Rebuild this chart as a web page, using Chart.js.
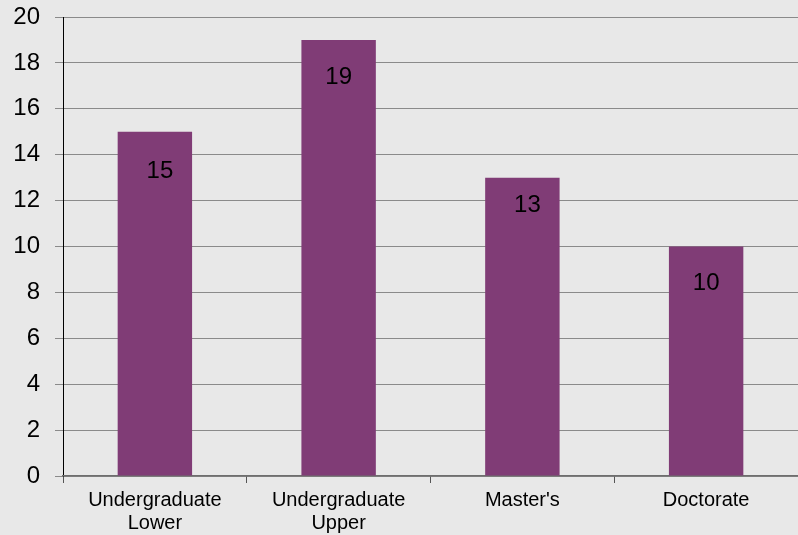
<!DOCTYPE html>
<html>
<head>
<meta charset="utf-8">
<script src="https://cdn.jsdelivr.net/npm/chart.js@4"></script>
<style>
  html, body { margin: 0; padding: 0; background: #e8e8e8; }
  #wrap { width: 798px; height: 535px; }
</style>
</head>
<body>
<div id="wrap"><canvas id="nivelesChart" width="798" height="535"></canvas></div>
<script>
// Categorías y valores
const categorias = [['Undergraduate', 'Lower'], ['Undergraduate', 'Upper'], "Master's", 'Doctorate'];
const valores = [15, 19, 13, 10];
const ejeY = { min: 0, max: 20, paso: 2 };

// Escribe el valor dentro de cada barra, bajo el borde superior
// (cada etiqueta lleva su pequeño desplazamiento)
const etiquetasBarras = {
    id: 'etiquetasBarras',
    afterDatasetsDraw(chart, args, opts) {
        const ctx = chart.ctx;
        const meta = chart.getDatasetMeta(0);
        ctx.save();
        ctx.font = '24px "Liberation Sans", Arial, sans-serif';
        ctx.fillStyle = '#000';
        ctx.textAlign = 'center';
        ctx.textBaseline = 'middle';
        meta.data.forEach((barra, i) => {
            ctx.fillText(String(valores[i]), barra.x + opts.dx[i], barra.y + opts.dy[i]);
        });
        ctx.restore();
    }
};

const ctx = document.getElementById('nivelesChart').getContext('2d');
const nivelesChart = new Chart(ctx, {
    type: 'bar',
    data: {
        labels: categorias,
        datasets: [{
            data: valores,
            backgroundColor: '#803c76',
            borderWidth: 0,
            categoryPercentage: 1,
            barPercentage: 0.405
        }]
    },
    options: {
        responsive: false,
        animation: false,
        layout: { padding: { top: 17, left: 0, right: 0, bottom: 0 } },
        plugins: {
            legend: { display: false },
            tooltip: { enabled: false },
            etiquetasBarras: { dx: [5, 0, 5, 0], dy: [40, 37, 28, 37] }
        },
        scales: {
            y: {
                min: ejeY.min,
                max: ejeY.max,
                ticks: {
                    stepSize: ejeY.paso,
                    color: '#000',
                    padding: 15,
                    // interlineado corto para que el 20 no empuje el área hacia abajo
                    font: { family: '"Liberation Sans", Arial, sans-serif', size: 24, lineHeight: 0.15 }
                },
                grid: { color: '#8a8a8a', lineWidth: 1, tickLength: 8 },
                border: { color: '#000', width: 1 },
                afterFit(scale) { scale.width = 63; }
            },
            x: {
                ticks: {
                    color: '#000',
                    padding: 6,
                    maxRotation: 0,
                    autoSkip: false,
                    font: { family: '"Liberation Sans", Arial, sans-serif', size: 20, lineHeight: 1.15 }
                },
                grid: { offset: true, drawOnChartArea: false, color: '#555', tickLength: 7 },
                border: { color: '#6e6e6e', width: 1.5 },
                afterFit(scale) { scale.height = 59; }
            }
        }
    },
    plugins: [etiquetasBarras]
});
</script>
</body>
</html>
